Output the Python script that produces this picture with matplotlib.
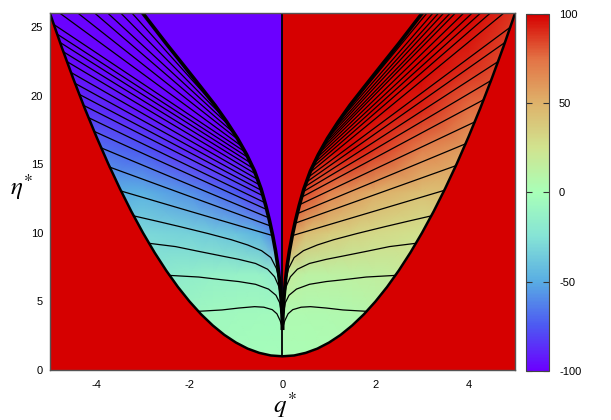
import numpy as np
import matplotlib
matplotlib.use("Agg")
import matplotlib.pyplot as plt
from matplotlib.colors import LinearSegmentedColormap, Normalize

# colour scale
cb_values = [-100, -75, -50, -25, 0, 25, 50, 75, 100]
cb_colors = ["#6b00ff", "#4d59f2", "#59ade3", "#85e3d6", "#a8ffb8",
             "#d1e38f", "#deb36b", "#e37345", "#d60000"]

# black boundary curve
bound_q = [-5, -4.75, -4.5, -4.25, -4, -3.75, -3.5, -3.25, -3, -2.75, -2.5,
           -2.25, -2, -1.75, -1.5, -1.25, -1, -0.75, -0.5, -0.25, 0,
           0.25, 0.5, 0.75, 1, 1.25, 1.5, 1.75, 2, 2.25, 2.5,
           2.75, 3, 3.25, 3.5, 3.75, 4, 4.25, 4.5, 4.75, 5]
bound_eta = [26, 23.56, 21.25, 19.06, 17, 15.06, 13.25, 11.56, 10, 8.56, 7.25,
             6.06, 5, 4.06, 3.25, 2.56, 2, 1.56, 1.25, 1.06, 1,
             1.06, 1.25, 1.56, 2, 2.56, 3.25, 4.06, 5, 6.06, 7.25,
             8.56, 10, 11.56, 13.25, 15.06, 17, 19.06, 21.25, 23.56, 26]

# outer edge of the contour fan (right half; mirrored on the left)
edge_q = [0.0, 0.01, 0.03, 0.06, 0.10, 0.15, 0.21, 0.28, 0.36, 0.46,
          0.60, 0.77, 0.97, 1.20, 1.45, 1.75, 2.10, 2.50, 3.00]
edge_eta = [3.05, 4.0, 5.2, 6.4, 7.6, 8.7, 9.8, 10.9, 12.0, 13.2,
            14.5, 15.7, 16.9, 18.1, 19.3, 20.6, 22.1, 23.8, 26.0]

# the four lowest contours (same shape on both sides)
low_q = [
    [0, 0.05, 0.12, 0.22, 0.4, 0.6, 0.94, 1.3, 1.81],
    [0, 0.015, 0.06, 0.14, 0.3, 0.58, 0.94, 1.3, 1.8, 2.43],
    [0, 0.015, 0.03, 0.08, 0.17, 0.32, 0.58, 0.94, 1.3, 1.8, 2.3, 2.87],
    [0, 0.015, 0.03, 0.06, 0.13, 0.25, 0.45, 0.75, 1.1, 1.6, 2.2, 2.7, 3.2],
]
low_eta = [
    [3.05, 3.6, 4.1, 4.4, 4.58, 4.62, 4.52, 4.38, 4.28],
    [3.05, 4.0, 4.9, 5.45, 5.9, 6.25, 6.45, 6.58, 6.78, 6.9],
    [3.05, 4.0, 5.2, 6.1, 6.8, 7.35, 7.77, 8.07, 8.31, 8.65, 9.0, 9.24],
    [3.05, 4.0, 5.2, 6.4, 7.4, 8.2, 8.7, 9.12, 9.5, 9.95, 10.45, 10.85, 11.24],
]

# upper contours: where each one leaves the fan edge and where it ends
right_meet_q = [0.21, 0.267, 0.316, 0.364, 0.41, 0.443, 0.476, 0.514, 0.551, 0.589,
                0.635, 0.685, 0.735, 0.787, 0.845, 0.903, 0.97, 1.066, 1.181, 1.325]
right_meet_eta = [9.8, 10.7, 11.4, 12.05, 12.6, 13.0, 13.35, 13.7, 14.05, 14.4,
                  14.75, 15.1, 15.45, 15.8, 16.15, 16.5, 16.9, 17.4, 18.0, 18.7]
right_end_q = [3.48, 3.73, 3.94, 4.14, 4.32, 4.48, 4.64, 4.79, 4.90, 4.75,
               4.46, 4.25, 4.07, 3.89, 3.71, 3.60, 3.46, 3.35, 3.23, 3.10]
right_end_eta = [13.1, 14.9, 16.5, 18.1, 19.7, 21.1, 22.5, 23.9, 25.0, 26,
                 26, 26, 26, 26, 26, 26, 26, 26, 26, 26]

left_meet_q = [-0.21, -0.255, -0.295, -0.338, -0.377, -0.418, -0.452, -0.492, -0.535, -0.578,
               -0.628, -0.685, -0.742, -0.803, -0.87, -0.953, -1.047, -1.162, -1.283, -1.429]
left_meet_eta = [9.8, 10.5, 11.1, 11.7, 12.2, 12.7, 13.1, 13.5, 13.9, 14.3,
                 14.7, 15.1, 15.5, 15.9, 16.3, 16.8, 17.3, 17.9, 18.5, 19.2]
left_end_q = [-3.47, -3.72, -3.90, -4.05, -4.17, -4.28, -4.37, -4.46, -4.55, -4.64,
              -4.71, -4.79, -4.85, -4.92, -4.78, -4.39, -4.03, -3.75, -3.47, -3.23]
left_end_eta = [13.05, 14.8, 16.2, 17.4, 18.4, 19.3, 20.1, 20.9, 21.7, 22.5,
                23.2, 23.9, 24.5, 25.2, 26, 26, 26, 26, 26, 26]

# colour values on a coarse grid (|q*| columns, eta* rows)
grid_q = [0, 0.5, 1, 1.5, 2, 3, 4, 5]
grid_eta = [1, 4, 7, 10, 13, 16, 19, 22, 26]
right_vals = [
    [2, 2, 3, 4, 6, 12, 25, 40],
    [4, 4, 5, 6, 8, 14, 25, 40],
    [20, 12, 13, 14, 15, 20, 30, 45],
    [70, 45, 38, 33, 30, 25, 35, 50],
    [100, 85, 70, 60, 52, 43, 45, 55],
    [100, 100, 100, 97, 88, 68, 57, 62],
    [100, 100, 100, 100, 100, 92, 75, 72],
    [100, 100, 100, 100, 100, 100, 90, 80],
    [100, 100, 100, 100, 100, 100, 100, 88],
]
left_vals = [
    [-2, -2, -3, -4, -6, -12, -25, -40],
    [-4, -4, -5, -6, -8, -14, -25, -40],
    [-20, -12, -13, -14, -16, -22, -35, -50],
    [-70, -48, -40, -36, -33, -30, -40, -55],
    [-100, -88, -75, -66, -58, -48, -50, -60],
    [-100, -100, -100, -98, -90, -75, -66, -70],
    [-100, -100, -100, -100, -100, -96, -86, -85],
    [-100, -100, -100, -100, -100, -100, -97, -95],
    [-100, -100, -100, -100, -100, -100, -100, -100],
]

plt.rcParams['font.family'] = 'Liberation Sans'
plt.rcParams['mathtext.fontset'] = 'stix'
plt.rcParams['axes.unicode_minus'] = False

cmap = LinearSegmentedColormap.from_list(
    "pal", list(zip((np.array(cb_values) + 100) / 200.0, cb_colors)))
norm = Normalize(-100, 100)
red = cmap(1.0)
purple = cmap(0.0)

fig = plt.figure(figsize=(6.11, 4.2), dpi=100)
ax = fig.add_axes([0.0818, 0.119, 0.7611, 0.849])
cax = fig.add_axes([0.861, 0.1174, 0.038, 0.849])
ax.set_facecolor(red)

# colour field
Q, E = np.meshgrid(grid_q, grid_eta)
ax.pcolormesh(Q, E, np.array(right_vals), cmap=cmap, norm=norm, shading="gouraud")
ax.pcolormesh(-Q, E, np.array(left_vals), cmap=cmap, norm=norm, shading="gouraud")

eq = np.array(edge_q)
ee = np.array(edge_eta)
ax.fill_betweenx(ee, 0, eq, color=red, lw=0)
ax.fill_betweenx(ee, 0, -eq, color=purple, lw=0)
ax.fill_between(bound_q, 0, bound_eta, color=red, lw=0)

# contour lines
for qs, es in zip(low_q, low_eta):
    qs = np.array(qs)
    ax.plot(qs, es, color="k", lw=0.9)
    ax.plot(-qs, es, color="k", lw=0.9)


def draw_upper(sign, meet_q, meet_eta, end_q, end_eta):
    for mq, me, xq, xe in zip(meet_q, meet_eta, end_q, end_eta):
        keep = ee < me
        qs = np.concatenate([sign * eq[keep], [mq, xq]])
        es = np.concatenate([ee[keep], [me, xe]])
        ax.plot(qs, es, color="k", lw=0.9)


draw_upper(1, right_meet_q, right_meet_eta, right_end_q, right_end_eta)
draw_upper(-1, left_meet_q, left_meet_eta, left_end_q, left_end_eta)

ax.plot(eq, ee, color="k", lw=2.6)
ax.plot(-eq, ee, color="k", lw=2.6)
ax.plot(bound_q, bound_eta, color="k", lw=1.8, solid_joinstyle="round")
ax.plot([0, 0], [1, 26], color="k", lw=1.3)

ax.set_xlim(-5, 5)
ax.set_ylim(0, 26)
ax.set_xticks([-4, -2, 0, 2, 4])
ax.set_yticks([0, 5, 10, 15, 20, 25])
ax.tick_params(axis="x", length=0, pad=7, labelsize=8)
ax.tick_params(axis="y", length=0, pad=5, labelsize=8)
for s in ax.spines.values():
    s.set_color("#555555")
    s.set_linewidth(1.0)

fig.text(0.466, 0.036, r"$q^{*}$", fontsize=18, ha="center", va="center")
fig.text(0.036, 0.555, r"$\eta^{*}$", fontsize=18, ha="center", va="center")

# colour box
sm = plt.cm.ScalarMappable(norm=norm, cmap=cmap)
cb = fig.colorbar(sm, cax=cax, ticks=[-100, -50, 0, 50, 100])
cb.ax.tick_params(direction="in", length=4, width=0.8, labelsize=8, pad=7,
                  left=True, right=True, color="#333333")
cb.outline.set_edgecolor("#444444")
cb.outline.set_linewidth(0.8)

fig.savefig("out.png", dpi=100)
